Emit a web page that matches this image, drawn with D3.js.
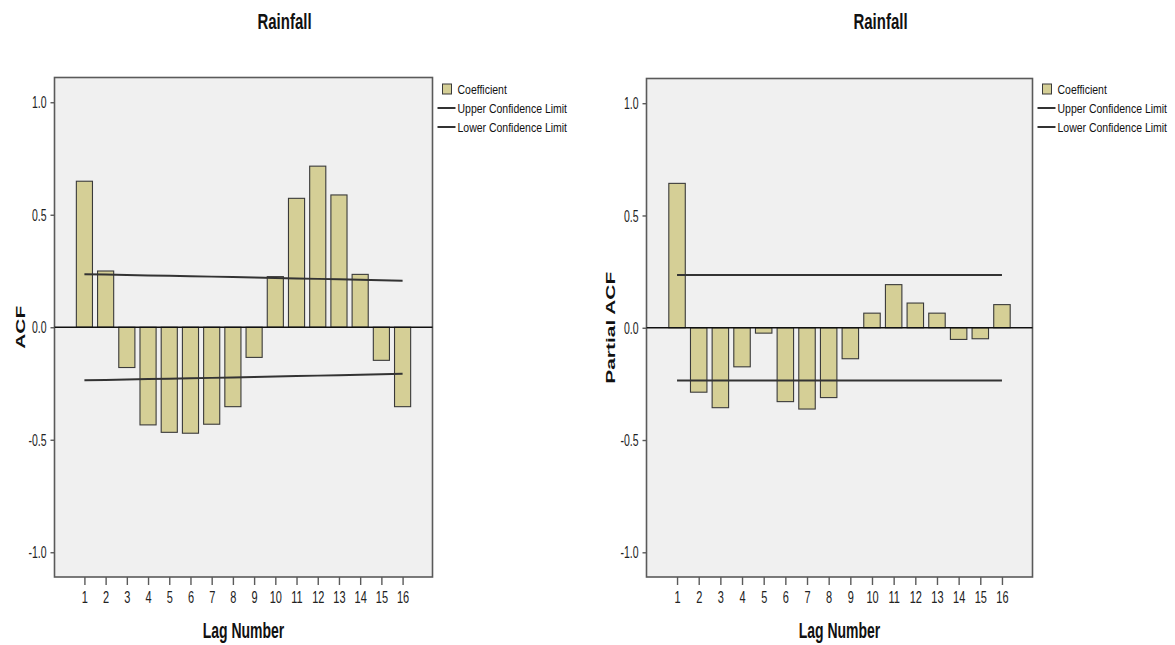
<!DOCTYPE html>
<html>
<head>
<meta charset="utf-8">
<script src="https://cdn.jsdelivr.net/npm/d3@7"></script>
<style>
  html, body { margin: 0; padding: 0; background: #ffffff; }
  svg { display: block; }
</style>
</head>
<body>
<svg id="chart" width="1175" height="645"></svg>
<script>
// ---------------- data ----------------
const lags = [1, 2, 3, 4, 5, 6, 7, 8, 9, 10, 11, 12, 13, 14, 15, 16];
const yTickValues = [-1.0, -0.5, 0.0, 0.5, 1.0];

const acfValues = [0.649, 0.250, -0.179, -0.434, -0.467, -0.471, -0.431, -0.353,
                   -0.134, 0.225, 0.573, 0.716, 0.588, 0.235, -0.147, -0.353];
const acfUpper = [0.236, 0.234, 0.232, 0.230, 0.229, 0.227, 0.225, 0.223,
                  0.221, 0.219, 0.217, 0.215, 0.213, 0.211, 0.209, 0.207];
const acfLower = [-0.236, -0.234, -0.232, -0.230, -0.229, -0.227, -0.225, -0.223,
                  -0.221, -0.219, -0.217, -0.215, -0.213, -0.211, -0.209, -0.207];

const pacfValues = [0.643, -0.287, -0.356, -0.174, -0.024, -0.329, -0.362, -0.311,
                    -0.138, 0.065, 0.192, 0.110, 0.065, -0.052, -0.049, 0.103];
const pacfUpper = [0.235, 0.235, 0.235, 0.235, 0.235, 0.235, 0.235, 0.235,
                   0.235, 0.235, 0.235, 0.235, 0.235, 0.235, 0.235, 0.235];
const pacfLower = [-0.235, -0.235, -0.235, -0.235, -0.235, -0.235, -0.235, -0.235,
                   -0.235, -0.235, -0.235, -0.235, -0.235, -0.235, -0.235, -0.235];

const chartTitles = ["Rainfall", "Rainfall"];
const yLabels = ["ACF", "Partial ACF"];
const xLabel = "Lag Number";
const legendLabels = ["Coefficient", "Upper Confidence Limit", "Lower Confidence Limit"];

// ---------------- style ----------------
const FONT = "'Liberation Sans', Arial, sans-serif";
const BAR_FILL = "#d5cf96";
const BAR_STROKE = "#3a3a3a";
const PLOT_BG = "#f0f0f0";
const FRAME = "#5a5a5a";
const LINE = "#333333";

const svg = d3.select("#chart");

function drawChart(cfg) {
  const { left, top, right, bottom } = cfg.frame;
  const g = svg.append("g");

  const x = d3.scaleLinear().domain([-0.41, 17.41]).range([left, right]);
  const y = d3.scaleLinear().domain([-1.11, 1.11]).range([bottom, top]);
  const step = x(2) - x(1);
  const bw = step * 0.76;

  // plot background + frame
  g.append("rect")
    .attr("x", left).attr("y", top)
    .attr("width", right - left).attr("height", bottom - top)
    .attr("fill", PLOT_BG).attr("stroke", FRAME).attr("stroke-width", 1.6);

  // bars
  g.selectAll("rect.bar").data(lags.map((l, i) => ({ lag: l, v: cfg.values[i] })))
    .enter().append("rect").attr("class", "bar")
    .attr("x", d => x(d.lag) - bw / 2)
    .attr("width", bw)
    .attr("y", d => y(Math.max(0, d.v)))
    .attr("height", d => Math.abs(y(d.v) - y(0)))
    .attr("fill", BAR_FILL).attr("stroke", BAR_STROKE).attr("stroke-width", 1.1);

  // zero reference line
  g.append("line")
    .attr("x1", left).attr("x2", right)
    .attr("y1", y(0)).attr("y2", y(0))
    .attr("stroke", "#111").attr("stroke-width", 1.6);

  // confidence limits
  const line = d3.line().x((d, i) => x(lags[i])).y(d => y(d));
  [cfg.upper, cfg.lower].forEach(arr => {
    g.append("path").datum(arr).attr("d", line)
      .attr("fill", "none").attr("stroke", LINE).attr("stroke-width", 2);
  });

  // y axis
  const yAxis = g.append("g").attr("transform", `translate(${left},0)`)
    .call(d3.axisLeft(y).tickValues(yTickValues).tickSize(4).tickPadding(4)
      .tickFormat(d => d.toFixed(1)));
  yAxis.select(".domain").remove();
  yAxis.selectAll(".tick line").attr("stroke", FRAME).attr("stroke-width", 1.4);
  yAxis.selectAll(".tick text")
    .attr("font-family", FONT).attr("font-size", 10.5).attr("fill", "#222")
    .attr("dy", "0.36em")
    .attr("transform", "scale(1,1.5)");

  // x axis
  const xAxis = g.append("g").attr("transform", `translate(0,${bottom})`)
    .call(d3.axisBottom(x).tickValues(lags).tickSize(8).tickFormat(d3.format("d")));
  xAxis.select(".domain").remove();
  xAxis.selectAll(".tick line").attr("stroke", FRAME).attr("stroke-width", 1.4);
  xAxis.selectAll(".tick text")
    .attr("font-family", FONT).attr("font-size", 11).attr("fill", "#222")
    .attr("y", 0).attr("dy", 0)
    .attr("transform", "translate(0,25.5) scale(1,1.5)");

  // title
  g.append("text")
    .attr("transform", `translate(${cfg.titleX},29) scale(1,1.45)`)
    .attr("text-anchor", "middle")
    .attr("font-family", FONT).attr("font-weight", "bold").attr("font-size", 15)
    .attr("fill", "#111").text(cfg.title);

  // x label
  g.append("text")
    .attr("transform", `translate(${(left + right) / 2 + cfg.xLabelShift},638) scale(1,1.55)`)
    .attr("text-anchor", "middle")
    .attr("font-family", FONT).attr("font-weight", "bold").attr("font-size", 14)
    .attr("fill", "#111").text(xLabel);

  // y label
  g.append("text")
    .attr("transform", `translate(${cfg.yLabelX},${y(0)}) rotate(-90) scale(1.55,1)`)
    .attr("text-anchor", "middle")
    .attr("font-family", FONT).attr("font-weight", "bold").attr("font-size", 13.5)
    .attr("fill", "#111").text(cfg.yLabel);

  // legend
  const lx = right + 5;
  const lg = g.append("g");
  lg.append("rect")
    .attr("x", lx + 5).attr("y", 84).attr("width", 9).attr("height", 10)
    .attr("fill", BAR_FILL).attr("stroke", BAR_STROKE).attr("stroke-width", 1);
  [108, 127].forEach(yy => {
    lg.append("line").attr("x1", lx).attr("x2", lx + 18)
      .attr("y1", yy).attr("y2", yy)
      .attr("stroke", LINE).attr("stroke-width", 2);
  });
  [89, 108, 127].forEach((yy, i) => {
    lg.append("text")
      .attr("transform", `translate(${lx + 20},${yy + 5}) scale(1,1.3)`)
      .attr("font-family", FONT).attr("font-size", 10.5).attr("fill", "#111")
      .text(legendLabels[i]);
  });
}

drawChart({
  frame: { left: 54.5, top: 77.5, right: 432.5, bottom: 577 },
  values: acfValues, upper: acfUpper, lower: acfLower,
  title: chartTitles[0], titleX: 284.5, yLabel: yLabels[0], yLabelX: 25,
  xLabelShift: 0
});

drawChart({
  frame: { left: 646.5, top: 78.5, right: 1032.5, bottom: 577 },
  values: pacfValues, upper: pacfUpper, lower: pacfLower,
  title: chartTitles[1], titleX: 880.5, yLabel: yLabels[1], yLabelX: 615,
  xLabelShift: 0
});
</script>
</body>
</html>
